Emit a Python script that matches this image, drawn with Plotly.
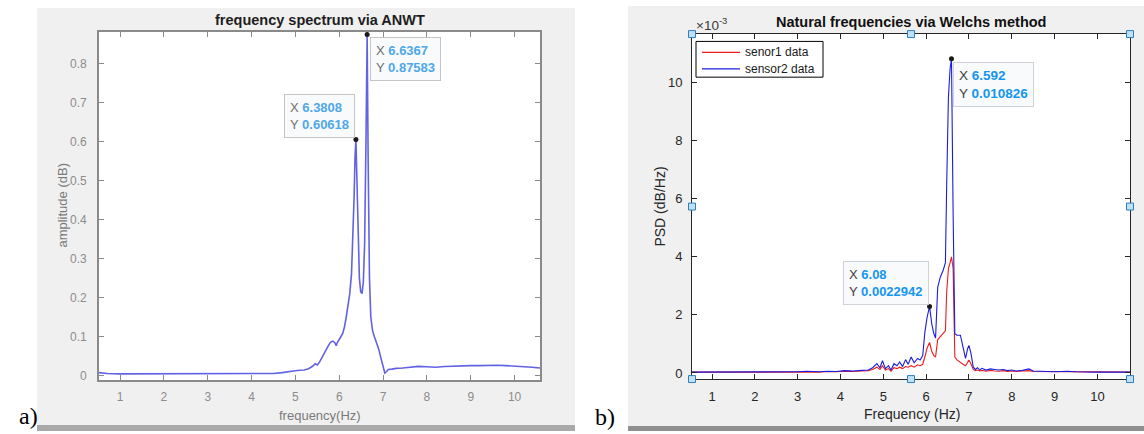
import numpy as np
import plotly.graph_objects as go

# ---------------- data ----------------
# (a) ANWT amplitude spectrum
freq_anwt = [0.52, 0.7, 1.0, 1.5, 2.0, 2.5, 3.0, 3.5, 4.0, 4.3, 4.5, 4.7, 4.85, 5.0, 5.1,
             5.2, 5.3, 5.4, 5.45, 5.5, 5.55, 5.6, 5.65, 5.7, 5.75, 5.8, 5.85, 5.9, 5.93,
             5.96, 6.0, 6.03, 6.08, 6.12, 6.16, 6.2, 6.24, 6.28, 6.31, 6.34, 6.36, 6.3808,
             6.4, 6.43, 6.46, 6.49, 6.52, 6.55, 6.58, 6.61, 6.6367, 6.66, 6.69, 6.72, 6.76,
             6.8, 6.85, 6.9, 6.95, 7.0, 7.04, 7.08, 7.12, 7.2, 7.3, 7.45, 7.6, 7.8, 8.0,
             8.2, 8.4, 8.6, 8.8, 9.0, 9.2, 9.4, 9.6, 9.8, 10.0, 10.2, 10.4, 10.58]
amp_anwt = [0.007, 0.005, 0.004, 0.004, 0.004, 0.004, 0.004, 0.004, 0.004, 0.004, 0.005,
            0.007, 0.010, 0.012, 0.013, 0.014, 0.017, 0.024, 0.030, 0.027, 0.034, 0.045,
            0.058, 0.066, 0.076, 0.085, 0.088, 0.084, 0.076, 0.085, 0.095, 0.098, 0.108,
            0.125, 0.150, 0.180, 0.210, 0.260, 0.340, 0.460, 0.560, 0.60618, 0.520, 0.360,
            0.250, 0.215, 0.210, 0.240, 0.340, 0.600, 0.87583, 0.550, 0.250, 0.150, 0.115,
            0.100, 0.085, 0.068, 0.045, 0.020, 0.006, 0.010, 0.015, 0.016, 0.018, 0.019,
            0.021, 0.023, 0.022, 0.021, 0.023, 0.024, 0.024, 0.025, 0.025, 0.026, 0.026,
            0.025, 0.024, 0.023, 0.021, 0.019]

# (b) Welch PSD, values given in units of 1e-3
freq_welch = [0.533, 1.0, 2.0, 2.8, 3.0, 3.2, 3.3, 3.5, 3.7, 3.9, 4.1, 4.3, 4.5, 4.65, 4.75,
              4.85, 4.92, 4.98, 5.05, 5.12, 5.18, 5.25, 5.32, 5.38, 5.45, 5.52, 5.58, 5.65,
              5.72, 5.8, 5.86, 5.92, 5.97, 6.02, 6.08, 6.13, 6.18, 6.22, 6.27, 6.33, 6.4,
              6.45, 6.48, 6.52, 6.56, 6.592, 6.63, 6.67, 6.72, 6.8, 6.86, 6.92, 6.97, 7.0,
              7.05, 7.1, 7.15, 7.2, 7.25, 7.3, 7.4, 7.5, 7.6, 7.7, 7.8, 7.9, 8.0, 8.1, 8.25,
              8.4, 8.5, 8.6, 8.8, 9.0, 9.3, 9.5, 10.0, 10.76]
psd_sensor2_e3 = [0.03, 0.03, 0.03, 0.03, 0.04, 0.06, 0.05, 0.04, 0.06, 0.05, 0.08, 0.07,
                  0.09, 0.10, 0.18, 0.32, 0.18, 0.42, 0.15, 0.25, 0.10, 0.32, 0.25, 0.38,
                  0.22, 0.46, 0.30, 0.55, 0.35, 0.50, 0.45, 0.60, 1.40, 1.90, 2.2942, 1.70,
                  1.35, 1.20, 2.95, 3.30, 3.55, 3.80, 6.50, 9.50, 10.50, 10.826, 5.50, 1.35,
                  1.30, 1.30, 0.90, 0.50, 0.85, 0.95, 0.65, 0.20, 0.12, 0.18, 0.10, 0.16,
                  0.10, 0.14, 0.12, 0.10, 0.12, 0.08, 0.10, 0.07, 0.09, 0.14, 0.07, 0.06,
                  0.04, 0.04, 0.06, 0.04, 0.03, 0.03]
psd_sensor1_e3 = [0.03, 0.03, 0.03, 0.02, 0.03, 0.04, 0.03, 0.03, 0.05, 0.04, 0.06, 0.05,
                  0.07, 0.08, 0.12, 0.20, 0.12, 0.25, 0.10, 0.15, 0.06, 0.18, 0.15, 0.20,
                  0.15, 0.22, 0.20, 0.25, 0.20, 0.28, 0.25, 0.30, 0.55, 0.85, 1.05, 0.75,
                  0.60, 0.55, 1.15, 1.25, 1.35, 1.45, 2.80, 3.60, 3.80, 4.00, 3.60, 0.55,
                  0.45, 0.35, 0.30, 0.25, 0.40, 0.45, 0.30, 0.12, 0.08, 0.10, 0.07, 0.09,
                  0.06, 0.09, 0.07, 0.06, 0.08, 0.05, 0.07, 0.05, 0.07, 0.08, 0.05, 0.05,
                  0.03, 0.03, 0.04, 0.03, 0.03, 0.03]

psd_ticks = [0, 0.002, 0.004, 0.006, 0.008, 0.010]
psd_tick_text = ["0", "2", "4", "6", "8", "10"]

series_names = ["senor1 data", "sensor2 data"]
series_colors = ["#ec1c1c", "#1c1ce0"]

# data tips: (frequency, value)
tips_anwt = [(6.3808, 0.60618), (6.6367, 0.87583)]
tips_welch = [(6.08, 0.0022942), (6.592, 0.010826)]

psd1 = np.array(psd_sensor1_e3) * 1e-3
psd2 = np.array(psd_sensor2_e3) * 1e-3

# ---------------- geometry helpers (pixel -> paper) ----------------
W, H = 1144, 434


def px(x):
    return x / W


def py(y):
    return 1 - y / H


SANS = "Liberation Sans, Arial, sans-serif"
SERIF = "Liberation Serif, Times New Roman, serif"

fig = go.Figure()

# ---- (a) ANWT spectrum ----
fig.add_trace(go.Scatter(x=freq_anwt, y=amp_anwt, mode="lines",
                         line=dict(color="#6262e4", width=1.6),
                         xaxis="x", yaxis="y", showlegend=False, hoverinfo="skip"))
fig.add_trace(go.Scatter(x=[t[0] for t in tips_anwt], y=[t[1] for t in tips_anwt],
                         mode="markers", marker=dict(color="#1a1a1a", size=5),
                         xaxis="x", yaxis="y", showlegend=False, hoverinfo="skip"))

# ---- (b) Welch PSD ----
fig.add_trace(go.Scatter(x=freq_welch, y=psd1, mode="lines", name=series_names[0],
                         line=dict(color=series_colors[0], width=1.1),
                         xaxis="x2", yaxis="y2", showlegend=False, hoverinfo="skip"))
fig.add_trace(go.Scatter(x=freq_welch, y=psd2, mode="lines", name=series_names[1],
                         line=dict(color=series_colors[1], width=1.1),
                         xaxis="x2", yaxis="y2", showlegend=False, hoverinfo="skip"))
fig.add_trace(go.Scatter(x=[t[0] for t in tips_welch], y=[t[1] for t in tips_welch],
                         mode="markers", marker=dict(color="#1a1a1a", size=5),
                         xaxis="x2", yaxis="y2", showlegend=False, hoverinfo="skip"))

# ---------------- axes ----------------
gray_ax = "#8a8a8a"
dark_ax = "#262626"

left_axis_common = dict(showline=True, linecolor=gray_ax, linewidth=1.6, mirror="ticks",
                        ticks="inside", ticklen=5, tickcolor=gray_ax, tickwidth=1.2,
                        showgrid=False, zeroline=False,
                        tickfont=dict(family=SANS, size=12, color="#8c8c8c"))
right_axis_common = dict(showline=True, linecolor=dark_ax, linewidth=1, mirror="ticks",
                         ticks="inside", ticklen=5, tickcolor=dark_ax, tickwidth=1,
                         showgrid=False, zeroline=False,
                         tickfont=dict(family=SANS, size=13, color=dark_ax))

fig.update_layout(
    xaxis=dict(domain=[px(99), px(540)], range=[0.52, 10.58], anchor="y",
               tickvals=list(range(1, 11)), ticklabelstandoff=5, **left_axis_common),
    yaxis=dict(domain=[py(382.7), py(32.3)], range=[-0.012, 0.882], anchor="x",
               tickvals=[0, 0.1, 0.2, 0.3, 0.4, 0.5, 0.6, 0.7, 0.8],
               ticktext=["0", "0.1", "0.2", "0.3", "0.4", "0.5", "0.6", "0.7", "0.8"],
               ticklabelstandoff=8, **left_axis_common),
    xaxis2=dict(domain=[px(692), px(1130)], range=[0.533, 10.76], anchor="y2",
                tickvals=list(range(1, 11)), ticklabelstandoff=5, **right_axis_common),
    yaxis2=dict(domain=[py(381.7), py(34.3)], range=[-0.00021, 0.01168], anchor="x2",
                tickvals=psd_ticks, ticktext=psd_tick_text, ticklabelstandoff=6,
                **right_axis_common),
)

# ---------------- panel backgrounds & decorations ----------------
shapes = [
    # figure windows
    dict(type="rect", xref="paper", yref="paper", x0=px(37), x1=px(575), y0=py(428), y1=py(8),
         fillcolor="#f0f0f0", line=dict(width=0), layer="below"),
    dict(type="rect", xref="paper", yref="paper", x0=px(628), x1=px(1144), y0=py(429), y1=py(6),
         fillcolor="#f0f0f0", line=dict(width=0), layer="below"),
    # white axes areas
    dict(type="rect", xref="paper", yref="paper", x0=px(99), x1=px(540), y0=py(382.7), y1=py(32.3),
         fillcolor="#ffffff", line=dict(width=0), layer="below"),
    dict(type="rect", xref="paper", yref="paper", x0=px(692), x1=px(1130), y0=py(381.7), y1=py(34.3),
         fillcolor="#ffffff", line=dict(width=0), layer="below"),
    # bottom window borders
    dict(type="rect", xref="paper", yref="paper", x0=px(37), x1=px(575), y0=0, y1=py(428),
         fillcolor="#a9a9a9", line=dict(width=0), layer="below"),
    dict(type="rect", xref="paper", yref="paper", x0=px(628), x1=px(1144), y0=0, y1=py(429),
         fillcolor="#8f8f8f", line=dict(width=0), layer="below"),
    # legend box of (b)
    dict(type="rect", xref="paper", yref="paper", x0=px(696), x1=px(823), y0=py(77.7), y1=py(41.7),
         fillcolor="#ffffff", line=dict(color="#000000", width=1), layer="above"),
]

# legend samples
legend_rows = [52.7, 69.3]
for row_y, col in zip(legend_rows, series_colors):
    shapes.append(dict(type="line", xref="paper", yref="paper", x0=px(702), x1=px(740),
                       y0=py(row_y), y1=py(row_y), line=dict(color=col, width=1.3),
                       layer="above"))

# selection handles round the (b) axes
hx = [692, 911, 1130]
hy = [34.3, 208, 381.7]
for cx in hx:
    for cy in hy:
        if cx == 911 and cy == 208:
            continue
        shapes.append(dict(type="rect", xref="paper", yref="paper",
                           x0=px(cx - 3.5), x1=px(cx + 3.5), y0=py(cy + 3.5), y1=py(cy - 3.5),
                           fillcolor="#bfe1f6", line=dict(color="#2d7fc0", width=1),
                           layer="above"))

fig.update_layout(shapes=shapes)

# ---------------- text ----------------
ann = []


def text(x, y, s, size, color="#000000", family=SANS, angle=0, xanchor="center", bold=False):
    ann.append(dict(xref="paper", yref="paper", x=px(x), y=py(y), text=("<b>%s</b>" % s) if bold else s,
                    showarrow=False, xanchor=xanchor, yanchor="middle", textangle=angle,
                    font=dict(family=family, size=size, color=color)))


text(320, 20.5, "frequency spectrum via ANWT", 14.5, "#1e1e1e", bold=True)
text(320, 418, "frequency(Hz)", 13, "#7a7a7a")
text(63, 207, "amplitude (dB)", 13, "#7a7a7a", angle=-90)

text(911, 22.5, "Natural frequencies via Welchs method", 14.5, "#111111", bold=True)
text(912, 417, "Frequency (Hz)", 14, dark_ax)
text(660, 208, "PSD (dB/Hz)", 14, dark_ax, angle=-90)
text(694, 24, "×10<sup>-3</sup>", 13.5, "#3a3a3a", xanchor="left")

for row_y, name in zip(legend_rows, series_names):
    text(743, row_y, name, 12, "#1a1a1a", xanchor="left")

text(28, 419, "a)", 24, "#000000", family=SERIF)
text(605, 420, "b)", 24, "#000000", family=SERIF)


def datatip(xref, yref, x, y, xs, ys, xanchor, yanchor, dx, dy, size, lab_col, val_col, border):
    ann.append(dict(
        xref=xref, yref=yref, x=x, y=y, showarrow=False,
        xanchor=xanchor, yanchor=yanchor, xshift=dx, yshift=dy, align="left",
        text=("<span style='color:%s'>X </span><span style='color:%s'><b>%s</b></span><br>"
              "<span style='color:%s'>Y </span><span style='color:%s'><b>%s</b></span>")
             % (lab_col, val_col, xs, lab_col, val_col, ys),
        font=dict(family=SANS, size=size),
        bgcolor="rgba(249,250,252,0.96)", bordercolor=border, borderwidth=1, borderpad=5))


datatip("x", "y", tips_anwt[0][0], tips_anwt[0][1], "6.3808", "0.60618",
        "right", "bottom", -1, 1, 13, "#6f6f6f", "#4ea8e8", "#c4c4c4")
datatip("x", "y", tips_anwt[1][0], tips_anwt[1][1], "6.6367", "0.87583",
        "left", "top", 3, -3, 13, "#6f6f6f", "#4ea8e8", "#c4c4c4")
datatip("x2", "y2", tips_welch[0][0], tips_welch[0][1], "6.08", "0.0022942",
        "right", "bottom", -1, 1, 13, "#404040", "#1496ee", "#cfd3d8")
datatip("x2", "y2", tips_welch[1][0], tips_welch[1][1], "6.592", "0.010826",
        "left", "top", 2, -3, 13.5, "#404040", "#1496ee", "#cfd3d8")

fig.update_layout(annotations=ann)

fig.update_layout(
    width=W, height=H, margin=dict(l=0, r=0, t=0, b=0),
    paper_bgcolor="#ffffff", plot_bgcolor="rgba(0,0,0,0)",
    showlegend=False,
)

fig.write_html("out.html")
